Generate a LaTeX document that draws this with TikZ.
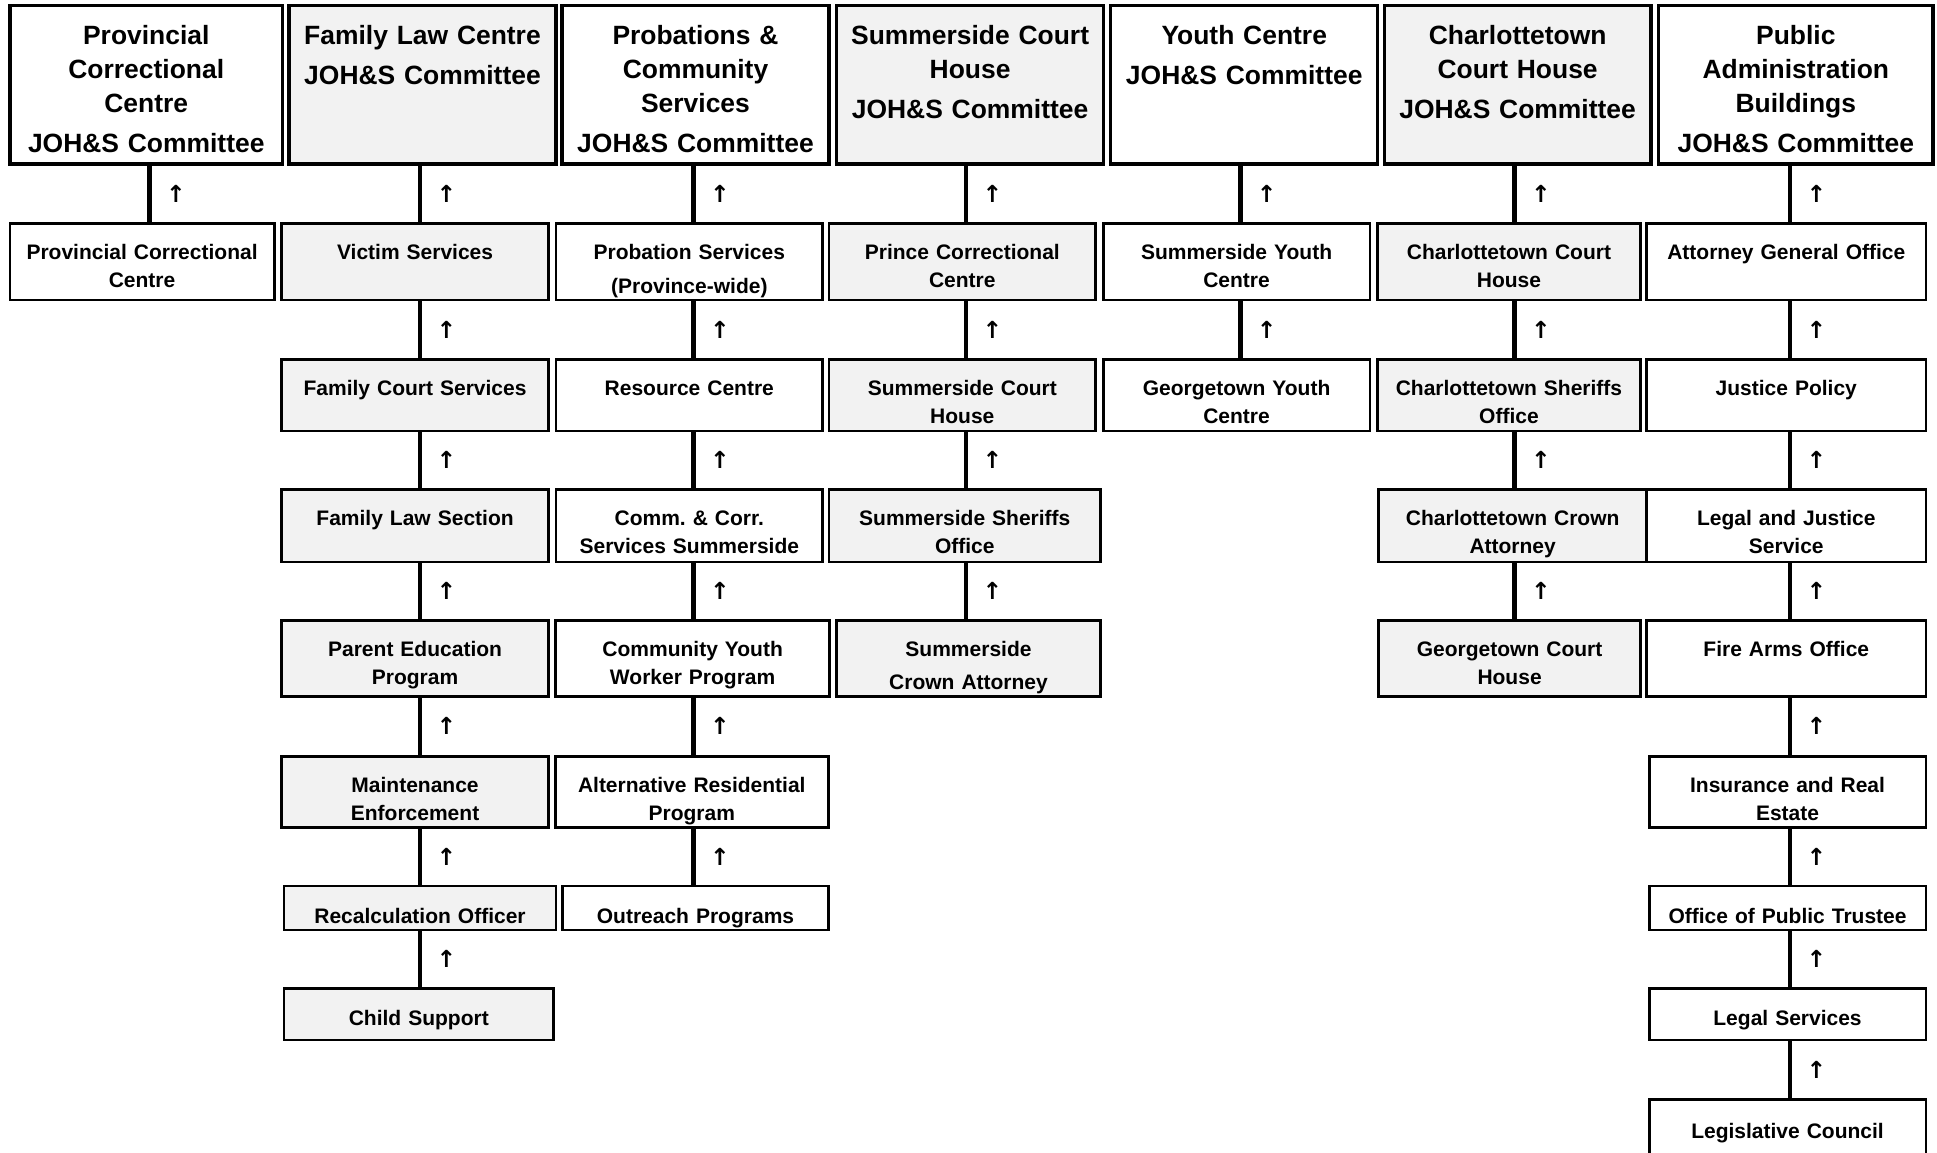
\documentclass[tikz,border=0pt]{standalone}
\usepackage{fontspec}
\setmainfont{Liberation Sans}
\newfontfamily\arrowfont{DejaVu Sans}
\usepackage{xcolor}
\usepackage{tikz}
\usetikzlibrary{positioning}
\definecolor{boxgrey}{RGB}{242,242,242}
\newcommand{\headfont}{\fontsize{21.4}{27.5}\selectfont\bfseries}
\newcommand{\unitfont}{\fontsize{17}{22.5}\selectfont\bfseries}
\frenchspacing

\begin{document}
\begin{tikzpicture}[
    x=1pt, y=-1pt,
    head/.style={draw, line width=2.6pt, text width=212pt, inner xsep=2pt, inner ysep=0pt,
                 text height=31.4pt, text depth=97pt, align=center, font=\headfont},
    unit/.style={draw, line width=2.2pt, text width=212pt, inner xsep=2pt, inner ysep=0pt,
                 text height=29.2pt, align=center, font=\unitfont},
    grey/.style={fill=boxgrey},
    link/.style={line width=3.8pt},
    upsign/.style={midway, right=11.5pt, inner sep=0pt, font=\arrowfont\bfseries\fontsize{19}{19}\selectfont}
  ]

    \fill[white] (0,0) rectangle (1568,933);
    \useasboundingbox (0,0) rectangle (1568,933);

    \coordinate (l1) at (121,0);
    \coordinate (l2) at (340,0);
    \coordinate (l3) at (561.5,0);
    \coordinate (l4) at (782,0);
    \coordinate (l5) at (1004,0);
    \coordinate (l6) at (1226,0);
    \coordinate (l7) at (1449,0);

    \node[head, text width=216.5pt] (hpcc) at (118.4,68.5) {Provincial\\Correctional\\Centre\\[5pt]JOH\&S Committee};
    \node[head, grey] (hflc) at (342,68.5)    {Family Law Centre\\[5pt]JOH\&S Committee};
    \node[head]       (hpcs) at (563,68.5)    {Probations \&\\Community\\Services\\[5pt]JOH\&S Committee};
    \node[head, grey] (hsch) at (785.3,68.5)  {Summerside Court\\House\\[5pt]JOH\&S Committee};
    \node[head]       (hyc)  at (1007.2,68.5) {Youth Centre\\[5pt]JOH\&S Committee};
    \node[head, grey] (hcch) at (1228.5,68.5) {Charlottetown\\Court House\\[5pt]JOH\&S Committee};
    \node[head, text width=218pt] (hpab) at (1453.7,68.5) {Public\\Administration\\Buildings\\[5pt]JOH\&S Committee};

    \node[unit, text width=210pt, text depth=32.6pt] (pcc) at (115,212) {Provincial Correctional\\Centre};

    \node[unit, grey, text depth=32.6pt] (vs)  at (336,212)   {Victim Services};
    \node[unit, grey, text depth=28.6pt] (fcs) at (336,320)   {Family Court Services};
    \node[unit, grey, text depth=29.6pt] (fls) at (336,425.5) {Family Law Section};
    \node[unit, grey, text depth=32.6pt] (pep) at (336,533)   {Parent Education\\Program};
    \node[unit, grey, text depth=28.6pt] (me)  at (336,641)   {Maintenance\\Enforcement};
    \node[unit, grey, text width=216pt, text height=30.2pt, text depth=5.6pt]  (ro) at (340,735) {Recalculation Officer};
    \node[unit, grey, text width=214pt, text height=30.2pt, text depth=11.6pt] (cs) at (339,821) {Child Support};

    \node[unit, text depth=32.6pt] (ps)  at (558,212)   {Probation Services\\[4.5pt](Province-wide)};
    \node[unit, text depth=28.6pt] (rc)  at (558,320)   {Resource Centre};
    \node[unit, text depth=29.6pt] (ccs) at (558,425.5) {Comm. \& Corr.\\Services Summerside};
    \node[unit, text width=218pt, text depth=32.6pt] (cywp) at (560.7,533) {Community Youth\\Worker Program};
    \node[unit, text width=217pt, text depth=28.6pt] (arp)  at (560,641)   {Alternative Residential\\Program};
    \node[unit, text width=211pt, text height=30.2pt, text depth=5.6pt] (op) at (563,735) {Outreach Programs};

    \node[unit, grey, text depth=32.6pt] (pric) at (779,212) {Prince Correctional\\Centre};
    \node[unit, grey, text depth=28.6pt] (sch)  at (779,320) {Summerside Court\\House};
    \node[unit, grey, text width=216pt, text depth=29.6pt] (sso) at (781,425.5) {Summerside Sheriffs\\Office};
    \node[unit, grey, text width=210pt, text depth=32.6pt] (sca) at (784,533)   {Summerside\\[4.5pt]Crown Attorney};

    \node[unit, text depth=32.6pt] (syc) at (1001,212) {Summerside Youth\\Centre};
    \node[unit, text depth=28.6pt] (gyc) at (1001,320) {Georgetown Youth\\Centre};

    \node[unit, grey, text width=209pt, text depth=32.6pt] (cch) at (1221.5,212)   {Charlottetown Court\\House};
    \node[unit, grey, text width=209pt, text depth=28.6pt] (cso) at (1221.5,320)   {Charlottetown Sheriffs\\Office};
    \node[unit, grey, text width=213pt, text depth=29.6pt] (cca) at (1224.5,425.5) {Charlottetown Crown\\Attorney};
    \node[unit, grey, text width=208pt, text depth=32.6pt] (gch) at (1222,533)     {Georgetown Court\\House};

    \node[unit, text width=222pt, text depth=32.6pt] (ago) at (1446,212)   {Attorney General Office};
    \node[unit, text width=222pt, text depth=28.6pt] (jp)  at (1446,320)   {Justice Policy};
    \node[unit, text width=222pt, text depth=29.6pt] (ljs) at (1446,425.5) {Legal and Justice\\Service};
    \node[unit, text width=222pt, text depth=32.6pt] (fao) at (1446,533)   {Fire Arms Office};
    \node[unit, text width=220pt, text depth=28.6pt] (ire) at (1447,641)   {Insurance and Real\\Estate};
    \node[unit, text width=220pt, text height=30.2pt, text depth=5.6pt]  (opt) at (1447,735) {Office of Public Trustee};
    \node[unit, text width=220pt, text height=30.2pt, text depth=11.6pt] (ls)  at (1447,821) {Legal Services};
    \node[unit, text width=220pt, text height=31.2pt, text depth=14.6pt] (lc)  at (1447,913) {Legislative Council};

    \draw[link] (hpcc.south -| l1) -- node[upsign] {↑} (pcc.north -| l1);

    \draw[link] (hflc.south -| l2) -- node[upsign] {↑} (vs.north -| l2);
    \draw[link] (vs.south -| l2)   -- node[upsign] {↑} (fcs.north -| l2);
    \draw[link] (fcs.south -| l2)  -- node[upsign] {↑} (fls.north -| l2);
    \draw[link] (fls.south -| l2)  -- node[upsign] {↑} (pep.north -| l2);
    \draw[link] (pep.south -| l2)  -- node[upsign] {↑} (me.north -| l2);
    \draw[link] (me.south -| l2)   -- node[upsign] {↑} (ro.north -| l2);
    \draw[link] (ro.south -| l2)   -- node[upsign] {↑} (cs.north -| l2);

    \draw[link] (hpcs.south -| l3) -- node[upsign] {↑} (ps.north -| l3);
    \draw[link] (ps.south -| l3)   -- node[upsign] {↑} (rc.north -| l3);
    \draw[link] (rc.south -| l3)   -- node[upsign] {↑} (ccs.north -| l3);
    \draw[link] (ccs.south -| l3)  -- node[upsign] {↑} (cywp.north -| l3);
    \draw[link] (cywp.south -| l3) -- node[upsign] {↑} (arp.north -| l3);
    \draw[link] (arp.south -| l3)  -- node[upsign] {↑} (op.north -| l3);

    \draw[link] (hsch.south -| l4) -- node[upsign] {↑} (pric.north -| l4);
    \draw[link] (pric.south -| l4) -- node[upsign] {↑} (sch.north -| l4);
    \draw[link] (sch.south -| l4)  -- node[upsign] {↑} (sso.north -| l4);
    \draw[link] (sso.south -| l4)  -- node[upsign] {↑} (sca.north -| l4);

    \draw[link] (hyc.south -| l5) -- node[upsign] {↑} (syc.north -| l5);
    \draw[link] (syc.south -| l5) -- node[upsign] {↑} (gyc.north -| l5);

    \draw[link] (hcch.south -| l6) -- node[upsign] {↑} (cch.north -| l6);
    \draw[link] (cch.south -| l6)  -- node[upsign] {↑} (cso.north -| l6);
    \draw[link] (cso.south -| l6)  -- node[upsign] {↑} (cca.north -| l6);
    \draw[link] (cca.south -| l6)  -- node[upsign] {↑} (gch.north -| l6);

    \draw[link] (hpab.south -| l7) -- node[upsign] {↑} (ago.north -| l7);
    \draw[link] (ago.south -| l7)  -- node[upsign] {↑} (jp.north -| l7);
    \draw[link] (jp.south -| l7)   -- node[upsign] {↑} (ljs.north -| l7);
    \draw[link] (ljs.south -| l7)  -- node[upsign] {↑} (fao.north -| l7);
    \draw[link] (fao.south -| l7)  -- node[upsign] {↑} (ire.north -| l7);
    \draw[link] (ire.south -| l7)  -- node[upsign] {↑} (opt.north -| l7);
    \draw[link] (opt.south -| l7)  -- node[upsign] {↑} (ls.north -| l7);
    \draw[link] (ls.south -| l7)   -- node[upsign] {↑} (lc.north -| l7);

  \end{tikzpicture}
\end{document}
